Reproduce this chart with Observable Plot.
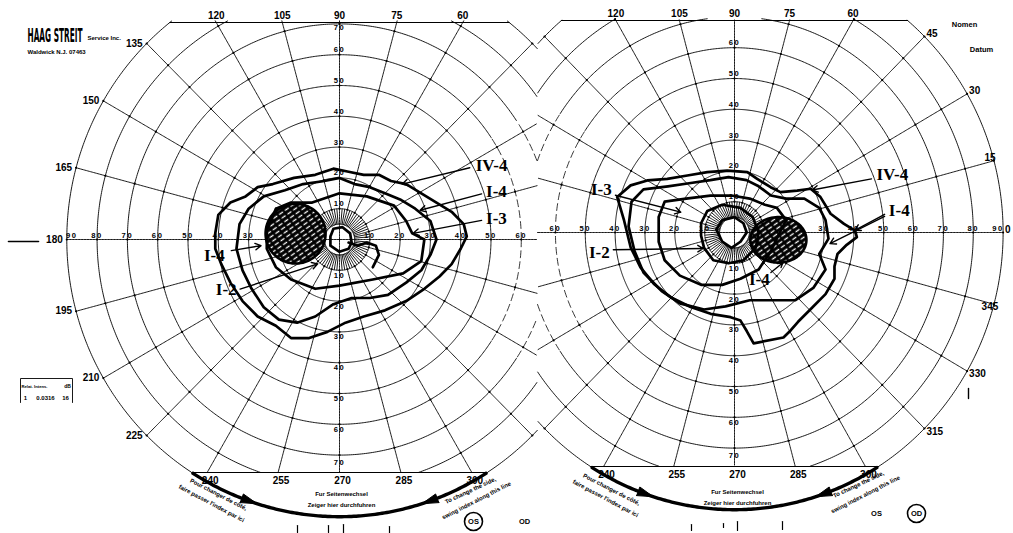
<!DOCTYPE html>
<html>
<head>
<meta charset="utf-8">
<script src="https://cdn.jsdelivr.net/npm/d3@7"></script>
<script src="https://cdn.jsdelivr.net/npm/@observablehq/plot@0.6"></script>
<style>
  html, body { margin: 0; padding: 0; background: #fff; }
  #chart svg { display: block; }
</style>
</head>
<body>
<div id="chart"></div>
<script>
// ---------------------------------------------------------------
// Goldmann kinetic perimetry form: left eye (OS) and right eye (OD)
// Isopters are given as [horizontal°, vertical°] from fixation.
// ---------------------------------------------------------------
const ringEcc = [10, 20, 30, 40, 50, 60, 70, 80, 90];
const meridianDeg = [0, 15, 30, 45, 60, 75, 90, 105, 120, 135, 150, 165, 180, 195, 210, 225, 240, 255, 270, 285, 300, 315, 330, 345];
const topMeridians = [60, 75, 90, 105, 120];
const bottomMeridians = [240, 255, 270, 285, 300];
const osSideMeridians = [135, 150, 165, 180, 195, 210, 225];
const odSideMeridians = [45, 30, 15, 0, 345, 330, 315];

// left eye isopters
const osIV4 = [[-41,2],[-40,8],[-36,12],[-31,14],[-27,17],[-22,18],[-15,20],[-8,21],[-2,23],[3,22],[8,21],[13,21],[17,19],[22,18],[27,15],[32,12],[37,9],[41,5],[42,1],[40,-3],[37,-8],[33,-12],[28,-16],[22,-20],[15,-23],[8,-25],[2,-27],[-4,-30],[-10,-32],[-16,-32],[-21,-28],[-27,-25],[-32,-20],[-36,-14],[-39,-8],[-41,-3],[-41,2]];
const osI4 = [[-33,5],[-30,10],[-25,14],[-18,16],[-12,18],[-5,19],[0,20],[5,18],[10,17],[15,15],[20,13],[25,10],[30,6],[32,0],[30,-5],[27,-10],[22,-14],[16,-18],[10,-19],[4,-19],[-2,-21],[-8,-25],[-14,-27],[-20,-26],[-25,-22],[-29,-16],[-32,-10],[-34,-3],[-33,5]];
const osI3 = [[-21,10],[-16,12],[-9,12],[0,15],[9,14],[18,11],[22,6],[24,2],[28,0],[27,-7],[21,-11],[11,-13],[0,-15],[-8,-16],[-16,-13],[-21,-9],[-24,-3],[-24,3],[-21,10]];
const osI2 = [[-3,1],[-2,3.5],[1,4],[3.5,2],[4,-1],[3,-3],[0,-4],[-3,-2],[-3,1]];
const osI2Tail = [[3,-1],[6,-2],[9,-1],[12,-2],[13,-5],[12,-7],[11,-9]];
const osBlindSpot = { x: -14.5, y: 1.9, rx: 9.9, ry: 9.7 };

// right eye isopters
const odIV4 = [[-39.3,11.5],[-34.8,15.3],[-29.2,16.9],[-22.5,17.4],[-15.8,18.5],[-9.1,19.6],[-2.4,20.1],[4.3,19.6],[7.6,17.4],[12.1,14.7],[15.4,13.1],[21,13.6],[25.5,14.2],[28.8,11.5],[32.2,6.1],[36.7,2.8],[40.4,0.6],[41,-1.5],[37.6,-4],[34.5,-7],[33.5,-11],[33.5,-15],[30.5,-20],[25.4,-25],[21.3,-29],[18.8,-31.8],[16.4,-34.1],[6.4,-36],[4.1,-32],[2,-28.6],[-1.3,-27.5],[-8,-26.4],[-14.7,-24.2],[-21.4,-21],[-27,-16.7],[-31.5,-11.3],[-34.8,-4.8],[-37,3.9],[-39.3,11.5]];
const odI4 = [[-34.5,10],[-30.5,14],[-22.3,15],[-15.2,16],[-8.1,17],[-2,18],[4,17],[8.1,15],[12.2,12],[17.3,11],[23.4,11],[28.4,8],[30.5,4],[31.5,-2],[28.4,-7],[30.5,-12],[26.4,-18],[20.3,-22],[13.2,-22],[5.1,-22],[-3,-24],[-10.2,-25],[-18.3,-23],[-24.4,-19],[-30.5,-13],[-33.5,-6],[-35.5,2],[-34.5,10]];
const odI3 = [[-25.4,5],[-23.4,10],[-16.2,11],[-8.1,12],[-1,12],[5.1,11],[10.2,9],[14.2,8],[17.3,4],[15.2,0],[12.2,-6],[8.1,-12],[2,-15],[-4.1,-17],[-11.2,-17],[-18.3,-14],[-23.4,-9],[-25.4,-3],[-25.4,5]];
const odI2 = [[-11.2,3],[-9.1,7],[-4.1,9],[2,8],[6.1,5],[8.1,0],[7.1,-5],[3,-9],[-2,-10],[-7.1,-9],[-10.2,-5],[-11.2,-1],[-11.2,3]];
const odCentral = [[-6.1,1],[-4.1,4],[0,5],[3,3],[4.1,0],[2,-3],[-1,-5],[-4.1,-3],[-6.1,1]];
const odBlindSpot = { x: 14.7, y: -2.4, rx: 9.4, ry: 7.4 };

// isopter labels: [text, label x°, label y°, arrow-from x°, y°, arrow-to x°, y°]
const osLabels = [
  ["IV-4", 50.2, 23.9, 43, 23.3, 20.7, 18],
  ["I-4", 51.8, 15.7, 46.9, 14.8, 26.6, 9.5],
  ["I-3", 51.8, 6.9, 46.9, 6.2, 24.3, 2],
  ["I-4", -41.3, -5.2, -35.7, -3.6, -25.9, -2],
  ["I-2", -37.4, -16.4, -32.8, -16.1, -7.2, -7.9]
];
const odLabels = [
  ["I-3", -44.6, 13.8, -39.9, 12.1, -18, 6.6],
  ["I-2", -45.3, -6.6, -40.6, -5.6, -10.4, -5.2],
  ["IV-4", 52.9, 18.7, 45.9, 17.4, 26, 13.8],
  ["I-4", 55.2, 7.2, 50.3, 5.9, 40.3, 0.7],
  ["I-4", 55.2, 7.2, 50.3, 5.2, 32, -3.6],
  ["I-4", 8.3, -15.4, 12.2, -13, 16.2, -9.8]
];

// ---------------------------------------------------------------
// layout of the form
const W = 1013, H = 533, KX = 3.03, KY = 3.08;   // pixels per degree
const SEAM = 537;                                // where the two fields meet
const eyes = [
  { id: "OS", cx: 339, cy: 239, top: 22, bottom: 472, side: -1, kx: 1,
    iso: [osIV4, osI4, osI3, osI2], open: [osI2Tail], spot: osBlindSpot, labels: osLabels },
  { id: "OD", cx: 734, cy: 232, top: 20, bottom: 466, side: 1, kx: 0.985,
    iso: [odIV4, odI4, odI3, odI2, odCentral], open: [], spot: odBlindSpot, labels: odLabels }
];
for (const e of eyes) {
  e.ox = (e.cx - 339) / KX;
  e.oy = (239 - e.cy) / KY;
  e.topD = (e.cy - e.top) / KY;
  e.botD = (e.cy - e.bottom) / KY;
  e.seamD = (SEAM - e.cx) / (KX * e.kx);
}
const rad = Math.PI / 180;
const polar = (r, a) => [r * Math.cos(a * rad), r * Math.sin(a * rad)];
const inside = (e, x, y) =>
  Math.hypot(x, y) <= 90.001 && y <= e.topD + 0.6 && y >= e.botD &&
  (e.side < 0 ? x <= e.seamD : x >= e.seamD);
// field position of an eye -> plot units
const PX = (e, xd) => e.ox + xd * e.kx;
const PY = (e, yd) => e.oy + yd;
// pixel position on the sheet -> plot units
const px = (x, y) => [(x - 339) / KX, (239 - y) / KY];
// a label row at field position (xd, yd) of an eye, nudged by (dx, dy) screen pixels
const labelAt = (e, xd, yd, t, dx = 0, dy = 0) => ({ x: PX(e, xd) + dx / KX, y: PY(e, yd) - dy / KY, t });

// grid lines (rings, meridians, inner spokes); far temporal ring arcs print faintly
const grid = [], gridFaint = [];
const push = (e, z, xd, yd, faint = false) => {
  const ok = inside(e, xd, yd);
  const a = ok && !faint, b = ok && faint;
  grid.push({ z: e.id + z, x: a ? PX(e, xd) : NaN, y: a ? PY(e, yd) : NaN });
  gridFaint.push({ z: e.id + z, x: b ? PX(e, xd) : NaN, y: b ? PY(e, yd) : NaN });
};
const ticks = [], axisLabels = [], chords = [], arcs = [], heads = [];
const edgeMiddle = [], edgeEnd = [], edgeStart = [];
for (const e of eyes) {
  for (const r of [5, ...ringEcc])
    for (let a = 0; a <= 360; a += 0.5) {
      const [xd, yd] = polar(r, a);
      push(e, "r" + r, xd, yd, r >= 60 && e.side * xd < -0.51 * r && Math.abs(yd) < 0.55 * r);
    }
  for (const m of meridianDeg) {
    for (let r = (m % 90 === 0 ? 0 : 5); r <= 90; r += 0.5) push(e, "m" + m, ...polar(r, m));
    for (const r of ringEcc) {
      const [xd, yd] = polar(r, m);
      if (inside(e, xd, yd)) ticks.push({ x: PX(e, xd), y: PY(e, yd) });
    }
  }
  for (let s = 0; s < 360; s += 5) if (s % 15) {
    push(e, "s" + s, ...polar(5, s));
    push(e, "s" + s, ...polar(10, s));
  }
  // ring numbers along the axes
  for (const r of ringEcc) {
    const edge = r === 90 ? 5 : 0;
    for (const [xd, yd, dx, dy] of [[-r, 0, edge, -4], [r, 0, -edge, -4], [0, r, 0, r === 70 ? 4 : -5], [0, -r, 0, r === 70 ? 7 : 5]])
      if (inside(e, xd, yd)) axisLabels.push(labelAt(e, xd, yd, String(r), dx, dy));
  }
  // straight edges of the sheet
  const wt = Math.sqrt(90 * 90 - e.topD * e.topD), wb = Math.sqrt(90 * 90 - e.botD * e.botD);
  chords.push({ z: e.id + "t", x: PX(e, -wt), y: PY(e, e.topD) }, { z: e.id + "t", x: PX(e, wt), y: PY(e, e.topD) });
  chords.push({ z: e.id + "b", x: PX(e, -wb), y: PY(e, e.botD) }, { z: e.id + "b", x: PX(e, wb), y: PY(e, e.botD) });
  // index arc below the bottom edge
  for (let a = 180; a <= 360; a += 0.5) {
    const [xd, yd] = polar(90, a);
    if (yd <= e.botD) arcs.push({ z: e.id, x: PX(e, xd), y: PY(e, yd) });
  }
  for (const [a, dir] of [[249, 1], [291, -1]]) {
    const tri = [polar(91.5, a), polar(88.5, a), polar(90, a + dir * 3.4), polar(91.5, a)];
    tri.forEach(([xd, yd]) => heads.push({ z: e.id + a, x: PX(e, xd), y: PY(e, yd) }));
  }
  // meridian numbers round the edge
  for (const m of topMeridians) {
    const x = m === 90 ? 0 : e.topD / Math.tan(m * rad);
    edgeMiddle.push(labelAt(e, x, e.topD, String(m), 0, -7));
  }
  for (const m of bottomMeridians) {
    const x = m === 270 ? 0 : e.botD / Math.tan(m * rad);
    edgeMiddle.push(labelAt(e, x, e.botD, String(m), 3, 8));
  }
  for (const m of (e.side < 0 ? osSideMeridians : odSideMeridians)) {
    const [xd, yd] = polar(90, m);
    if (e.side < 0) edgeEnd.push(labelAt(e, xd, yd, String(m), -4, 0));
    else if (m === 15 || m === 345) edgeMiddle.push(labelAt(e, xd, yd, String(m), -4, m === 15 ? -3 : 3));
    else edgeStart.push(labelAt(e, xd, yd, String(m), 2, m > 180 ? 3 : -3));
  }
}

// isopters and blind spots
const isoRows = [], spotRows = [], labelRows = [], arrowRows = [];
eyes.forEach(e => {
  e.iso.forEach((line, i) => line.forEach(([x, y]) => isoRows.push({ z: e.id + "c" + i, x: PX(e, x), y: PY(e, y) })));
  e.open.forEach((line, i) => line.forEach(([x, y]) => isoRows.push({ z: e.id + "o" + i, x: PX(e, x), y: PY(e, y) })));
  for (let a = 0; a <= 360; a += 4) {
    spotRows.push({ z: e.id, x: PX(e, e.spot.x + e.spot.rx * Math.cos(a * rad)), y: PY(e, e.spot.y + e.spot.ry * Math.sin(a * rad)) });
  }
  const seen = new Set();
  e.labels.forEach(([t, lx, ly, x1, y1, x2, y2]) => {
    const k = t + lx + ly;
    if (!seen.has(k)) { seen.add(k); labelRows.push({ t, x: PX(e, lx), y: PY(e, ly) }); }
    arrowRows.push({ x1: PX(e, x1), y1: PY(e, y1), x2: PX(e, x2), y2: PY(e, y2) });
  });
});

// printed notes on the sheet (pixel placement)
const note = (t, x, y, o = {}) => Plot.text([t], {
  frameAnchor: "top-left", dx: x, dy: y, textAnchor: "middle", lineAnchor: "middle",
  fill: "#000", fontFamily: "Liberation Sans, Arial, sans-serif", fontWeight: "bold", fontSize: 6.5, ...o
});
const circled = (x, y) => Plot.dot([0], { frameAnchor: "top-left", dx: x, dy: y, r: 9, stroke: "#000", strokeWidth: 1.6, fill: "none" });
const seg = (pts, sw = 1) => Plot.line(pts.map(p => px(...p)), { x: d => d[0], y: d => d[1], stroke: "#000", strokeWidth: sw });
const edgeText = (rows, anchor) => Plot.text(rows, { x: "x", y: "y", text: "t", textAnchor: anchor, fontSize: 10,
  fontWeight: "bold", fontFamily: "Liberation Sans, Arial, sans-serif", fill: "#000" });

const RING_FONT = 7.6;
const chart = Plot.plot({
  width: W, height: H, margin: 0,
  x: { domain: [px(0, 0)[0], px(W, 0)[0]], axis: null },
  y: { domain: [px(0, H)[1], px(0, 0)[1]], axis: null },
  style: { background: "#fff" },
  marks: [
    Plot.line(grid, { x: "x", y: "y", z: "z", stroke: "#000", strokeWidth: 0.9 }),
    Plot.line(gridFaint, { x: "x", y: "y", z: "z", stroke: "#000", strokeWidth: 0.8, strokeDasharray: "7,4" }),
    Plot.line(chords, { x: "x", y: "y", z: "z", stroke: "#000", strokeWidth: 1.2 }),
    Plot.line(arcs, { x: "x", y: "y", z: "z", stroke: "#000", strokeWidth: 3.4 }),
    Plot.line(heads, { x: "x", y: "y", z: "z", fill: "#000", stroke: "#000", strokeWidth: 1 }),
    Plot.dot(ticks, { x: "x", y: "y", r: 1.1, fill: "#000" }),
    Plot.text(axisLabels, { x: "x", y: "y", text: "t", fontSize: RING_FONT, fontWeight: "bold",
      fontFamily: "Liberation Sans, Arial, sans-serif", fill: "#000" }),
    edgeText(edgeMiddle, "middle"),
    edgeText(edgeEnd, "end"),
    edgeText(edgeStart, "start"),
    // blind spots
    Plot.line(spotRows, { x: "x", y: "y", z: "z", fill: "url(#hatch)", stroke: "#000", strokeWidth: 2.6 }),
    // isopters
    Plot.line(isoRows, { x: "x", y: "y", z: "z", stroke: "#000", strokeWidth: 2.7, strokeLinejoin: "round", strokeLinecap: "round" }),
    Plot.arrow(arrowRows, { x1: "x1", y1: "y1", x2: "x2", y2: "y2", stroke: "#000", strokeWidth: 1.4, headLength: 7 }),
    Plot.text(labelRows, { x: "x", y: "y", text: "t", fontSize: 17, fontWeight: "bold",
      fontFamily: "Liberation Serif, DejaVu Serif, serif", fill: "#000" }),
    // header
    note("HAAG STREIT", 27, 35, { textAnchor: "start", fontSize: 20, fontWeight: 900,
      fontFamily: "DejaVu Sans Condensed, Liberation Sans, sans-serif" }),
    note("Service Inc.", 87, 38, { textAnchor: "start", fontSize: 6 }),
    note("Waldwick N.J. 07463", 27, 52, { textAnchor: "start", fontSize: 6 }),
    note("Nomen", 964, 24, { fontSize: 7.5 }),
    note("Datum", 981, 49, { fontSize: 7.5 }),
    // stimulus box
    seg([[20, 402], [20, 378], [72, 378], [72, 402]], 0.9),
    note("Relat. Intens.", 34, 386, { fontSize: 4.2 }),
    note("dB", 67, 386, { fontSize: 5 }),
    note("1", 25, 398, { fontSize: 6 }),
    note("0.0316", 45, 398, { fontSize: 6 }),
    note("16", 65, 398, { fontSize: 6 }),
    seg([[8, 241], [38, 241]], 1.6),
    // index arcs
    note("Fur Seitenwechsel", 341, 494, { fontSize: 6 }),
    note("Zeiger hier durchfuhren", 341, 505, { fontSize: 6 }),
    note("Pour changer de côté,", 218, 494, { fontSize: 6, rotate: 27 }),
    note("faire passer l'index par ici", 211, 503, { fontSize: 6, rotate: 28 }),
    note("To change the side,", 470, 490, { fontSize: 6, rotate: -25 }),
    note("swing index along this line", 476, 500, { fontSize: 6, rotate: -27 }),
    note("OS", 473, 521, { fontSize: 7.5 }), circled(473, 521),
    note("OD", 524, 521, { fontSize: 7.5 }),
    note("Fur Seitenwechsel", 737, 492, { fontSize: 6 }),
    note("Zeiger hier durchfuhren", 737, 503, { fontSize: 6 }),
    note("Pour changer de côté,", 611, 489, { fontSize: 6, rotate: 27 }),
    note("faire passer l'index par ici", 605, 498, { fontSize: 6, rotate: 28 }),
    note("To change the side,", 858, 484, { fontSize: 6, rotate: -25 }),
    note("swing index along this line", 865, 494, { fontSize: 6, rotate: -27 }),
    note("OS", 876, 513, { fontSize: 7.5 }),
    note("OD", 916, 513, { fontSize: 7.5 }), circled(916, 513),
    // registration marks along the lower edge
    seg([[297, 525], [297, 532]], 1.2), seg([[328, 525], [328, 532]], 1.2),
    seg([[343, 524], [343, 533]], 1.2), seg([[389, 526], [389, 533]], 1.2),
    seg([[691, 524], [691, 530]], 1.2), seg([[723, 523], [723, 527]], 1.2),
    seg([[737, 521], [737, 530]], 1.2), seg([[782, 521], [782, 529]], 1.2),
    seg([[968, 388], [968, 398]], 1.4)
  ]
});

// diagonal hatching used for the blind spots
const defs = document.createElementNS("http://www.w3.org/2000/svg", "defs");
defs.innerHTML = `<pattern id="hatch" patternUnits="userSpaceOnUse" width="7" height="4.5" patternTransform="rotate(-35)">
  <rect width="7" height="4.5" fill="#000"/>
  <line x1="0.5" y1="2.2" x2="5.2" y2="2.2" stroke="#fff" stroke-width="1.3"/>
</pattern>`;
chart.insertBefore(defs, chart.firstChild);
// ring numbers are printed with the ring passing between the digits
chart.querySelectorAll(`g[font-size="${RING_FONT}"] text`).forEach(t => t.setAttribute("letter-spacing", "1.6"));
document.getElementById("chart").appendChild(chart);
// condensed maker's name: squeeze the word mark to its printed width
chart.querySelectorAll("text").forEach(t => {
  if (t.textContent === "HAAG STREIT") {
    const w = t.getComputedTextLength();
    const tr = t.getAttribute("transform") || "";
    if (w > 0) t.setAttribute("transform", `${tr} scale(${(55 / w).toFixed(3)},1)`);
  }
});
</script>
</body>
</html>
